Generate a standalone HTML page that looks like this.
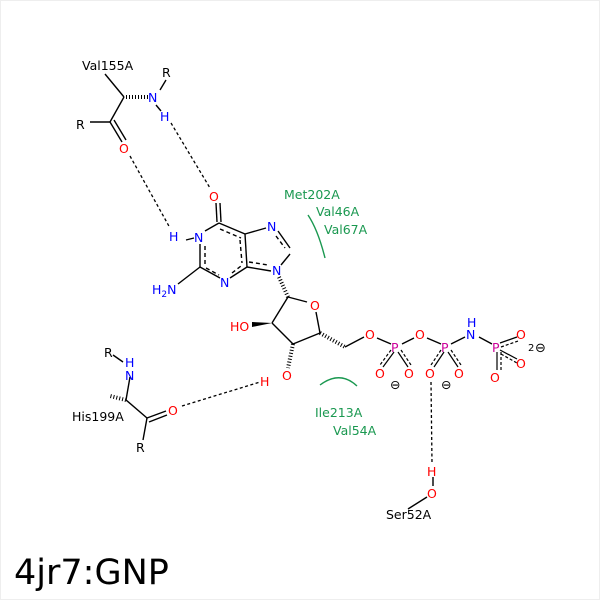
<!DOCTYPE html>
<html><head><style>body{margin:0;background:#fff}svg{display:block}</style></head><body>
<svg width="600" height="600" viewBox="0 0 600 600" xmlns="http://www.w3.org/2000/svg" font-family="'DejaVu Sans','Liberation Sans',sans-serif" font-size="12.5">
<rect x="0.5" y="0.5" width="599" height="599" fill="#fff" stroke="#eee"/>
<g stroke="#000" stroke-width="1.4" fill="none">
<line x1="105" y1="74" x2="124" y2="97"/>
<line x1="124" y1="97" x2="110" y2="122"/>
<line x1="90" y1="122" x2="110" y2="122"/>
<line x1="110" y1="122" x2="122" y2="142"/><line x1="114" y1="120" x2="126" y2="140"/>
<line x1="160" y1="90" x2="166" y2="80"/>
<line x1="156" y1="105" x2="161" y2="111"/>
<line x1="219" y1="223" x2="245" y2="234"/>
<line x1="219" y1="223" x2="205" y2="231"/>
<line x1="200" y1="244" x2="200" y2="267"/>
<line x1="200" y1="267" x2="220" y2="278"/>
<line x1="230" y1="278" x2="247" y2="267"/>
<line x1="245" y1="234" x2="247" y2="267"/>
<line x1="245" y1="234" x2="266" y2="228"/>
<line x1="278" y1="231" x2="290" y2="248"/>
<line x1="290" y1="254" x2="281" y2="265"/>
<line x1="247" y1="267" x2="271" y2="271"/>
<line x1="200" y1="267" x2="178" y2="284"/>
<line x1="186" y1="240" x2="194" y2="238"/>
<line x1="217" y1="222" x2="216" y2="203"/><line x1="221" y1="222" x2="220" y2="203"/>
<g stroke-dasharray="4,3">
<line x1="220" y1="229" x2="241" y2="238"/><line x1="205" y1="246" x2="205" y2="264"/>
<line x1="206" y1="268" x2="219" y2="275"/><line x1="232" y1="273" x2="241" y2="266"/>
<line x1="240" y1="240" x2="242" y2="263"/><line x1="249" y1="262" x2="268" y2="265"/>
<line x1="276" y1="236" x2="285" y2="248"/>
</g>
<line x1="288" y1="297" x2="307" y2="302"/>
<line x1="316" y1="312" x2="320" y2="333"/>
<line x1="320" y1="333" x2="293" y2="344"/>
<line x1="293" y1="344" x2="272" y2="323"/>
<line x1="272" y1="323" x2="288" y2="297"/>
<line x1="345" y1="347" x2="364" y2="337"/>
<line x1="377" y1="338" x2="391" y2="344"/>
<line x1="402" y1="344" x2="414" y2="338"/>
<line x1="427" y1="338" x2="441" y2="344"/>
<line x1="451" y1="344" x2="465" y2="337"/>
<line x1="479" y1="337" x2="492" y2="344"/>
<line x1="130" y1="377" x2="126" y2="400"/>
<line x1="126" y1="400" x2="147" y2="418"/>
<line x1="147" y1="418" x2="143" y2="440"/>
<line x1="147" y1="418" x2="166" y2="411"/><line x1="149" y1="422" x2="167" y2="415"/>
<line x1="113" y1="355" x2="123" y2="362"/>
<line x1="408" y1="509" x2="427" y2="497"/>
<line x1="433" y1="477" x2="433" y2="486"/>
</g>
<g stroke="#000" stroke-width="1.2">
<line x1="394" y1="352" x2="383" y2="367"/><line x1="398" y1="352" x2="408" y2="367"/>
<line x1="444" y1="352" x2="434" y2="367"/><line x1="448" y1="352" x2="458" y2="367"/>
<line x1="500" y1="343" x2="517" y2="337"/><line x1="500" y1="350" x2="517" y2="359"/><line x1="497" y1="352" x2="497" y2="370"/>
</g>
<g stroke="#000" stroke-width="1.2" stroke-dasharray="3,2">
<line x1="391" y1="350" x2="380" y2="365"/><line x1="401" y1="350" x2="411" y2="365"/>
<line x1="441" y1="350" x2="431" y2="365"/><line x1="451" y1="350" x2="461" y2="365"/>
<line x1="501" y1="347" x2="518" y2="341"/><line x1="501" y1="354" x2="517" y2="363"/><line x1="501" y1="352" x2="501" y2="370"/>
</g>
<g stroke="#000" stroke-width="1.2">
<path d="M126 97 L148 97" stroke-dasharray="1,2" stroke-width="4"/>
<path d="M126 400 L110 396" stroke-dasharray="1,2" stroke-width="4"/>
<path d="M279 277 L288 297" stroke-dasharray="1,2" stroke-width="4"/>
<path d="M320 333 L345 347" stroke-dasharray="1,2" stroke-width="4"/>
<path d="M293 344 L288 368" stroke-dasharray="1,2" stroke-width="4"/>
</g>
<polygon points="272,323 252,322 252,327" fill="#000"/>
<g stroke="#000" stroke-width="1.3" stroke-dasharray="3,2.5" fill="none">
<line x1="130" y1="156" x2="170" y2="228"/>
<line x1="171" y1="123" x2="210" y2="188"/>
<line x1="182" y1="406" x2="260" y2="382"/>
<line x1="431" y1="382" x2="432" y2="463"/>
</g>
<g stroke="#1a9850" stroke-width="1.4" fill="none">
<path d="M308 215 Q318 230 325 258"/>
<path d="M320 385 Q340 370 357 386"/>
</g>
<g fill="#000">
<text x="82" y="70">Val155A</text>
<text x="162" y="77">R</text>
<text x="76" y="129">R</text>
<text x="104" y="357">R</text>
<text x="72" y="421">His199A</text>
<text x="136" y="452">R</text>
<text x="386" y="519">Ser52A</text>
<text x="528" y="351" font-size="10">2</text>
<text x="535" y="352" font-size="13">⊖</text>
<text x="390" y="389">⊖</text>
<text x="441" y="389">⊖</text>
<text x="14" y="584" font-size="35">4jr7:GNP</text>
</g>
<g fill="#0000ff">
<text x="148" y="102">N</text>
<text x="160" y="121">H</text>
<text x="169" y="241">H</text>
<text x="194" y="242">N</text>
<text x="152" y="294">H<tspan font-size="9" dy="3">2</tspan><tspan dy="-3">N</tspan></text>
<text x="220" y="287">N</text>
<text x="267" y="231">N</text>
<text x="272" y="275">N</text>
<text x="125" y="367">H</text>
<text x="125" y="380">N</text>
<text x="467" y="327">H</text>
<text x="466" y="339">N</text>
</g>
<g fill="#ff0000">
<text x="119" y="153">O</text>
<text x="209" y="201">O</text>
<text x="310" y="310">O</text>
<text x="230" y="331">HO</text>
<text x="282" y="380">O</text>
<text x="260" y="386">H</text>
<text x="168" y="415">O</text>
<text x="365" y="339">O</text>
<text x="415" y="339">O</text>
<text x="516" y="339">O</text>
<text x="516" y="368">O</text>
<text x="490" y="382">O</text>
<text x="375" y="378">O</text>
<text x="404" y="378">O</text>
<text x="425" y="378">O</text>
<text x="454" y="378">O</text>
<text x="427" y="476">H</text>
<text x="427" y="498">O</text>
</g>
<g fill="#cc0099">
<text x="391" y="352">P</text>
<text x="441" y="352">P</text>
<text x="492" y="352">P</text>
</g>
<g fill="#1a9850">
<text x="284" y="199">Met202A</text>
<text x="316" y="216">Val46A</text>
<text x="324" y="234">Val67A</text>
<text x="315" y="417">Ile213A</text>
<text x="333" y="435">Val54A</text>
</g>
</svg>
</body></html>
